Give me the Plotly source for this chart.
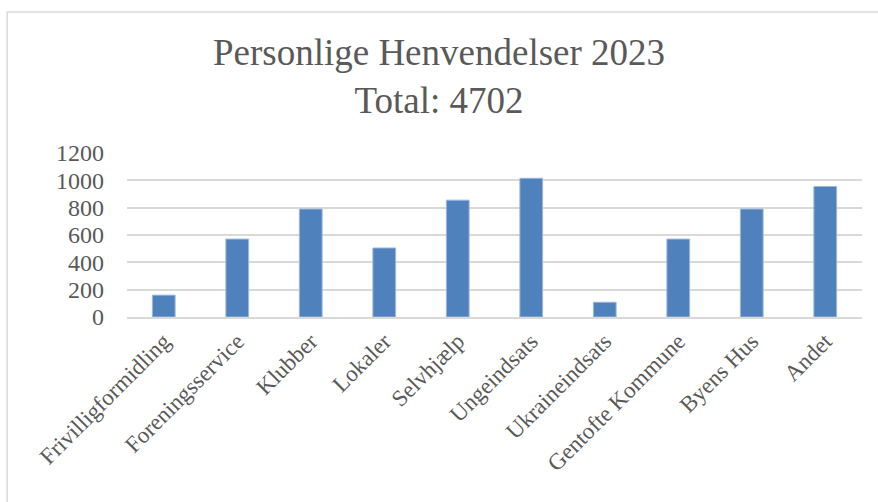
import plotly.graph_objects as go

categories = ["Frivilligformidling", "Foreningsservice", "Klubber", "Lokaler", "Selvhjælp",
              "Ungeindsats", "Ukraineindsats", "Gentofte Kommune", "Byens Hus", "Andet"]
values = [160, 570, 790, 505, 855, 1015, 108, 570, 790, 955]
y_ticks = [0, 200, 400, 600, 800, 1000, 1200]

font = "Liberation Serif"
grey = "#595959"

fig = go.Figure(go.Bar(
    x=categories, y=values,
    marker=dict(color="#4F81BD", line=dict(color="#9DB8DC", width=1)),
    hoverinfo="x+y",
))

fig.update_layout(
    width=878, height=502,
    margin=dict(l=127, r=16, t=153, b=185),
    paper_bgcolor="white", plot_bgcolor="white",
    bargap=0.69,
    showlegend=False,
    title=dict(
        text="Personlige Henvendelser 2023<br>Total: 4702",
        x=0.5, xanchor="center", y=0.87, yanchor="middle",
        font=dict(family=font, size=37, color=grey),
    ),
    font=dict(family=font, color=grey),
)

fig.update_xaxes(
    tickangle=-45, tickfont=dict(family=font, size=23, color=grey),
    showgrid=False, showline=True, linecolor="#D9D9D9", linewidth=1.5,
    ticks="", automargin=False,
)
fig.update_yaxes(
    range=[0, 1200], tickvals=y_ticks, ticktext=[str(v) for v in y_ticks],
    tickfont=dict(family=font, size=24, color=grey),
    showgrid=True, gridcolor="#D9D9D9", gridwidth=1.5,
    zeroline=False, showline=False, ticks="", ticklabelstandoff=22,
    automargin=False,
)

# outer chart frame
fig.add_shape(type="rect", xref="paper", yref="paper",
              x0=-0.163, x1=1.05, y0=-1.3, y1=1.86,
              line=dict(color="#D9D9D9", width=1.5), fillcolor="rgba(0,0,0,0)", layer="below")

fig.write_html("out.html", config={"displayModeBar": False},
               post_script="document.body.style.margin='0';")
